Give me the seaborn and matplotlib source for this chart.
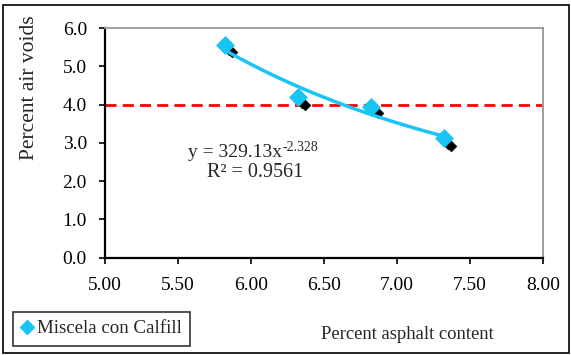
import numpy as np
import pandas as pd
import matplotlib
matplotlib.use('Agg')
import matplotlib.pyplot as plt
import seaborn as sns
from matplotlib.patches import Rectangle

# datos
asphalt = [5.82, 6.32, 6.82, 7.32]
voids = [5.56, 4.20, 3.94, 3.13]
# marcadores negros (probetas individuales)
asphalt_b = [5.85, 6.35, 6.85, 7.35, 5.87, 6.37, 6.87, 7.37]
voids_b = [5.42, 4.05, 3.83, 2.97, 5.36, 4.00, 3.78, 2.92]
target_voids = 4.0
x_ticks = [5.00, 5.50, 6.00, 6.50, 7.00, 7.50, 8.00]
x_labels = ['5.00', '5.50', '6.00', '6.50', '7.00', '7.50', '8.00']
y_ticks = [0, 1, 2, 3, 4, 5, 6]
y_labels = ['0.0', '1.0', '2.0', '3.0', '4.0', '5.0', '6.0']

sns.set_style('white')
plt.rcParams['font.family'] = ['Liberation Serif', 'DejaVu Serif']

df = pd.DataFrame({'x': asphalt, 'y': voids})
dfb = pd.DataFrame({'x': asphalt_b, 'y': voids_b})

# ajuste potencial (log-log) como la linea de tendencia
b, a = np.polyfit(np.log(df['x']), np.log(df['y']), 1)
xs = np.linspace(min(asphalt), max(asphalt), 50)
fit = pd.DataFrame({'x': xs, 'y': np.exp(a) * xs ** b})

fig = plt.figure(figsize=(5.71, 3.55), dpi=100)
ax = fig.add_axes([0.1839, 0.2746, 0.767, 0.6465])
blue = '#19C5F5'

sns.scatterplot(data=dfb, x='x', y='y', ax=ax, marker='D', s=30, color='black',
                edgecolor='black', zorder=3, legend=False)
sns.scatterplot(data=df, x='x', y='y', ax=ax, marker='D', s=80, color=blue,
                edgecolor=blue, zorder=4, legend=False)
sns.lineplot(data=fit, x='x', y='y', ax=ax, color=blue, lw=2.5, zorder=5)
ax.axhline(target_voids, color='#FF0000', lw=2, dashes=(4, 2.2), zorder=2)

ax.set_xlim(5, 8)
ax.set_ylim(0, 6)
ax.set_xticks(x_ticks)
ax.set_xticklabels(x_labels)
ax.set_yticks(y_ticks)
ax.set_yticklabels(y_labels)
ax.tick_params(direction='out', length=4.5, width=1.2, labelsize=14,
               bottom=True, left=True, colors='black')
ax.tick_params(axis='x', pad=9.5)
ax.tick_params(axis='y', pad=8.5)
for s in ['left', 'bottom']:
    ax.spines[s].set_color('black')
    ax.spines[s].set_linewidth(1.6)
for s in ['top', 'right']:
    ax.spines[s].set_color('#999999')
    ax.spines[s].set_linewidth(1.3)

ax.set_xlabel('Percent asphalt content', fontsize=13.4)
ax.set_ylabel('Percent air voids', fontsize=15.5)
ax.xaxis.set_label_coords(0.69, -0.30)
ax.yaxis.set_label_coords(-0.15, 0.74)

ax.text(6.213, 2.74, 'y = 329.13x', ha='right', va='center', fontsize=14)
ax.annotate('-2.328', (6.213, 2.74), xytext=(0, 4), textcoords='offset points',
            ha='left', va='center', fontsize=10)
ax.text(6.03, 2.22, 'R² = 0.9561', ha='center', va='center', fontsize=14.5)

h = plt.Line2D([], [], marker='D', ls='', color=blue, markersize=7)
leg = fig.legend([h], ['Miscela con Calfill'], loc='lower left',
                 bbox_to_anchor=(0.022, 0.026), fontsize=13.6, frameon=True,
                 fancybox=False, handlelength=0.6, handletextpad=0.25,
                 borderpad=0.45, borderaxespad=0)
leg.get_frame().set_edgecolor('black')
leg.get_frame().set_linewidth(1.2)

fig.patches.append(Rectangle((0.006, 0.005), 0.99, 0.982, transform=fig.transFigure,
                             fill=False, edgecolor='black', lw=1.2))

fig.savefig('out.png', dpi=100)
